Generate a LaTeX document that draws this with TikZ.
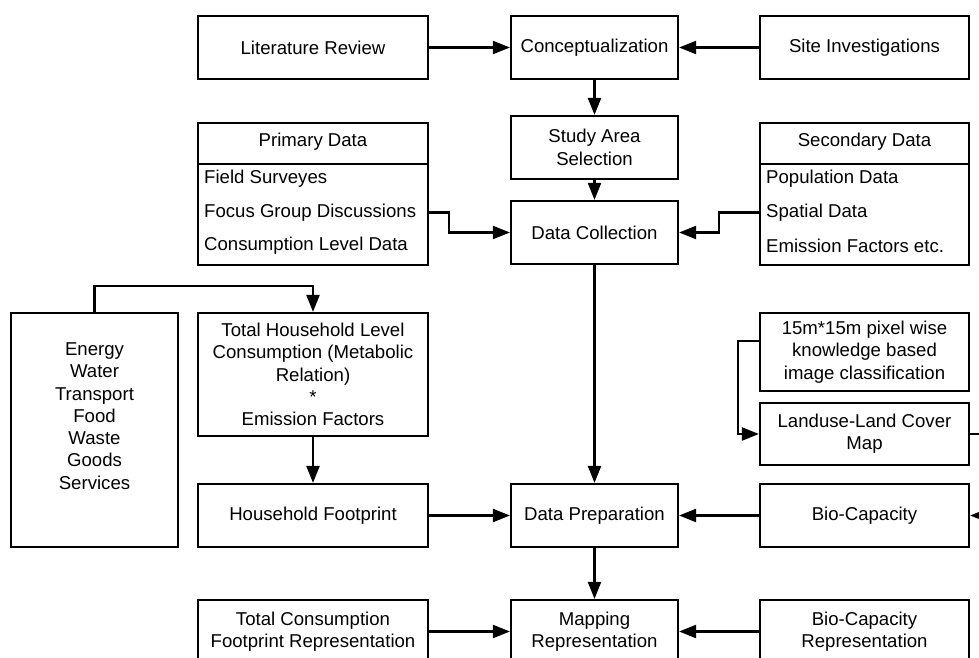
\documentclass[tikz,border=0pt]{standalone}
\usepackage{fontspec}
\setmainfont{Liberation Sans}
\usetikzlibrary{arrows.meta}
\newcommand\dfont{\fontsize{18.6}{22.3}\selectfont}
\begin{document}
\begin{tikzpicture}[x=1pt,y=-1pt,
  box/.style={draw, line width=2.2pt, inner sep=0pt, align=center, font=\dfont},
  txt/.style={inner sep=0pt, align=center, font=\dfont},
  item/.style={inner sep=0pt, anchor=west, font=\dfont},
  arr/.style={line width=2.2pt, -{Triangle[length=17pt,width=13pt]}},
  ln/.style={line width=2.2pt}]
\useasboundingbox (0,0) rectangle (979,658);
\clip (0,0) rectangle (979,658);
% top row
\node[box, minimum width=230pt, minimum height=63pt] (lit) at (313,47.5) {Literature Review};
\node[box, minimum width=167pt, minimum height=63pt] (concept) at (594.5,47.5) {Conceptualization};
\node[box, minimum width=209pt, minimum height=63pt] (site) at (864.5,47.5) {Site Investigations};
\node[box, minimum width=167pt, minimum height=63pt] (study) at (594.5,147.5) {Study Area\\Selection};
\node[box, minimum width=167pt, minimum height=63pt] (dc) at (594.5,232.5) {Data Collection};
% primary data
\node[box, minimum width=230pt, minimum height=142pt] (prim) at (313,194) {};
\draw[ln] (198,164) -- (428,164);
\node[txt] (phead) at (313,142) {Primary Data};
\node[item] (pfield) at (204,179) {Field Surveyes};
\node[item] (pfocus) at (204,212.5) {Focus Group Discussions};
\node[item] (pcons) at (204,246) {Consumption Level Data};
% secondary data
\node[box, minimum width=209pt, minimum height=142pt] (sec) at (864.5,194) {};
\draw[ln] (760,164) -- (969,164);
\node[txt] (shead) at (864.5,142) {Secondary Data};
\node[item] (spop) at (766,179) {Population Data};
\node[item] (sspat) at (766,212.5) {Spatial Data};
\node[item] (semis) at (766,246) {Emission Factors etc.};
% middle
\node[box, minimum width=167pt, minimum height=234pt] (energy) at (94.5,430) {};
\node[txt] (elist) at (94.5,416) {Energy\\Water\\Transport\\Food\\Waste\\Goods\\Services};
\node[box, minimum width=230pt, minimum height=123pt] (thl) at (313,374.5) {Total Household Level\\Consumption (Metabolic\\Relation)\\*\\Emission Factors};
\node[box, minimum width=209pt, minimum height=78pt] (pix) at (864.5,352) {15m*15m pixel wise\\knowledge based\\image classification};
\node[box, minimum width=209pt, minimum height=62pt] (land) at (864.5,434) {Landuse-Land Cover\\Map};
\node[box, minimum width=230pt, minimum height=63pt] (hf) at (313,515.5) {Household Footprint};
\node[box, minimum width=167pt, minimum height=63pt] (dp) at (594.5,515.5) {Data Preparation};
\node[box, minimum width=209pt, minimum height=63pt] (bio) at (864.5,515.5) {Bio-Capacity};
% bottom
\node[box, minimum width=230pt, minimum height=63pt] (tcfr) at (313,631.5) {Total Consumption\\Footprint Representation};
\node[box, minimum width=167pt, minimum height=63pt] (map) at (594.5,631.5) {Mapping\\Representation};
\node[box, minimum width=209pt, minimum height=63pt] (biorep) at (864.5,631.5) {Bio-Capacity\\Representation};
% connectors
\draw[arr] (lit) -- (concept);
\draw[arr] (site) -- (concept);
\draw[arr] (concept) -- (study);
\draw[arr] (study) -- (dc);
\draw[arr] (prim.east |- pfocus.center) -- ++(20,0) |- (dc.west);
\draw[arr] (sec.west |- sspat.center) -- ++(-40,0) |- (dc.east);
\draw[arr] (dc) -- (dp);
\draw[arr] (energy.north) -- ++(0,-26) -| (thl.north);
\draw[arr] (thl) -- (hf);
\draw[arr] (hf) -- (dp);
\draw[arr] (bio) -- (dp);
\draw[arr] ([yshift=11pt]pix.west) -- ++(-21,0) |- (land.west);
\draw[arr] (land.east) -- ++(25,0) |- (bio.east);
\draw[arr] (dp) -- (map);
\draw[arr] (tcfr) -- (map);
\draw[arr] (biorep) -- (map);
\end{tikzpicture}
\end{document}
